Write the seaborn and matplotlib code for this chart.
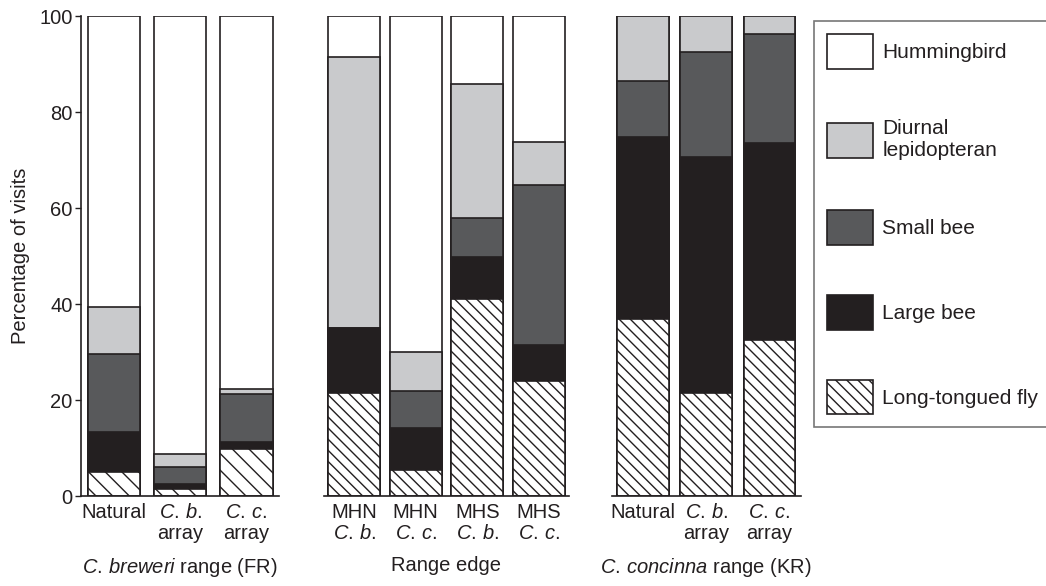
"""
Stacked percentage bars of pollinator visits in three ranges, with a shared legend.
"""
import matplotlib
matplotlib.use("Agg")
import matplotlib.pyplot as plt
import numpy as np
import pandas as pd
import seaborn as sns

sns.set_style("white")
plt.rcParams["font.family"] = ["Liberation Sans", "DejaVu Sans"]
plt.rcParams["mathtext.fontset"] = "custom"
plt.rcParams["mathtext.rm"] = "Liberation Sans"
plt.rcParams["mathtext.it"] = "Liberation Sans:italic"
plt.rcParams["hatch.linewidth"] = 1.0
plt.rcParams["hatch.color"] = "#231f20"

INK = "#231f20"

# --- data: percentage of visits per visitor class (bottom to top) ---
visitors = ["Long-tongued fly", "Large bee", "Small bee",
            "Diurnal lepidopteran", "Hummingbird"]

fr_sites = ["Natural", "C. b. array", "C. c. array"]
fr_fly = [5.0, 1.4, 9.8]
fr_large = [8.3, 1.1, 1.5]
fr_small = [16.3, 3.5, 9.9]
fr_lep = [9.7, 2.8, 1.0]
fr_hum = [60.7, 91.2, 77.8]

edge_sites = ["MHN C. b.", "MHN C. c.", "MHS C. b.", "MHS C. c."]
edge_fly = [21.4, 5.5, 41.0, 23.9]
edge_large = [13.5, 8.6, 8.8, 7.6]
edge_small = [0.0, 7.7, 8.1, 33.2]
edge_lep = [56.6, 8.1, 27.9, 9.0]
edge_hum = [8.5, 70.1, 14.2, 26.3]

kr_sites = ["Natural", "C. b. array", "C. c. array"]
kr_fly = [36.9, 21.4, 32.5]
kr_large = [37.9, 49.3, 41.0]
kr_small = [11.7, 21.8, 22.8]
kr_lep = [13.5, 7.5, 3.7]
kr_hum = [0.0, 0.0, 0.0]

fr_ticks = ["Natural", "$\\mathit{C.}\\,\\mathit{b.}$\narray",
            "$\\mathit{C.}\\,\\mathit{c.}$\narray"]
edge_ticks = ["MHN\n$\\mathit{C.}\\,\\mathit{b.}$", "MHN\n$\\mathit{C.}\\,\\mathit{c.}$",
              "MHS\n$\\mathit{C.}\\,\\mathit{b.}$", "MHS\n$\\mathit{C.}\\,\\mathit{c.}$"]
kr_ticks = fr_ticks
group_labels = ["$\\mathit{C.}\\,\\mathit{breweri}$ range (FR)", "Range edge",
                "$\\mathit{C.}\\,\\mathit{concinna}$ range (KR)"]


def make_frame(sites, fly, large, small, lep, hum):
    df = pd.DataFrame({"site": sites, "Long-tongued fly": fly, "Large bee": large,
                       "Small bee": small, "Diurnal lepidopteran": lep,
                       "Hummingbird": hum})
    # cumulative tops so that bars can be overlaid from tallest to shortest
    df[visitors] = df[visitors].cumsum(axis=1)
    return df


frames = [make_frame(fr_sites, fr_fly, fr_large, fr_small, fr_lep, fr_hum),
          make_frame(edge_sites, edge_fly, edge_large, edge_small, edge_lep, edge_hum),
          make_frame(kr_sites, kr_fly, kr_large, kr_small, kr_lep, kr_hum)]
ticklabels = [fr_ticks, edge_ticks, kr_ticks]

style = {
    "Hummingbird": dict(color="white", hatch=None),
    "Diurnal lepidopteran": dict(color="#c9cacc", hatch=None),
    "Small bee": dict(color="#58595b", hatch=None),
    "Large bee": dict(color="#231f20", hatch=None),
    "Long-tongued fly": dict(color="white", hatch="\\\\\\"),
}

W, H = 1046, 586
fig = plt.figure(figsize=(W / 100, H / 100), dpi=100)
# panel extents in pixels: left, right
panels = [(81, 279.5), (323.5, 569.5), (611.5, 801)]
widths = [0.79, 0.85, 0.82]
fly_hatch = ["\\\\", "\\\\\\", "\\\\\\"]
y0, y1 = 496, 16

for i, ((xl, xr), df, labs, wd) in enumerate(zip(panels, frames, ticklabels, widths)):
    ax = fig.add_axes([xl / W, (H - y0) / H, (xr - xl) / W, (y0 - y1) / H])
    for v in visitors[::-1]:
        hatch = fly_hatch[i] if v == "Long-tongued fly" else None
        sns.barplot(data=df, x="site", y=v, order=list(df["site"]), ax=ax,
                    color=style[v]["color"], hatch=hatch,
                    edgecolor=INK, linewidth=1.2, width=wd, errorbar=None,
                    saturation=1)
    n = len(df)
    ax.set_xlim(-0.5, n - 0.5)
    ax.set_ylim(0, 100)
    ax.set_xticks(range(n))
    ax.set_xticklabels(labs, fontsize=14.5, color=INK, linespacing=1.15)
    ax.set_xticks(np.arange(n + 1) - 0.5, minor=True)
    ax.tick_params(axis="x", which="major", length=0, pad=5)
    ax.tick_params(axis="x", which="minor", direction="in", length=4,
                   width=1, color=INK)
    ax.set_xlabel(group_labels[i], fontsize=14.5, color=INK, labelpad=9)
    sns.despine(ax=ax, left=(i > 0))
    ax.spines["bottom"].set_color(INK)
    ax.spines["bottom"].set_linewidth(1.2)
    if i == 0:
        ax.set_yticks([0, 20, 40, 60, 80, 100])
        ax.tick_params(axis="y", direction="out", length=4, width=1,
                       color=INK, labelsize=14.5, labelcolor=INK, pad=2, left=True)
        ax.spines["left"].set_color(INK)
        ax.spines["left"].set_linewidth(1.2)
        ax.set_ylabel("Percentage of visits", fontsize=14.5, color=INK, labelpad=7)
    else:
        ax.set_yticks([])
        ax.set_ylabel("")

handles = [matplotlib.patches.Patch(facecolor=style[v]["color"], edgecolor=INK,
                                    hatch=style[v]["hatch"], linewidth=1.2)
           for v in visitors[::-1]]
names = ["Hummingbird", "Diurnal\nlepidopteran", "Small bee", "Large bee",
         "Long-tongued fly"]
leg = fig.legend(handles, names, loc="upper left",
                 bbox_to_anchor=(814 / W, 1 - 21 / H), borderaxespad=0,
                 fontsize=15, handlelength=2.2, handleheight=2.2,
                 labelspacing=2.4, borderpad=0.62, handletextpad=0.45,
                 fancybox=False, frameon=True)
leg.get_frame().set_edgecolor("#555555")
leg.get_frame().set_linewidth(1.2)
for t in leg.get_texts():
    t.set_color(INK)

fig.savefig("out.png", dpi=100)
